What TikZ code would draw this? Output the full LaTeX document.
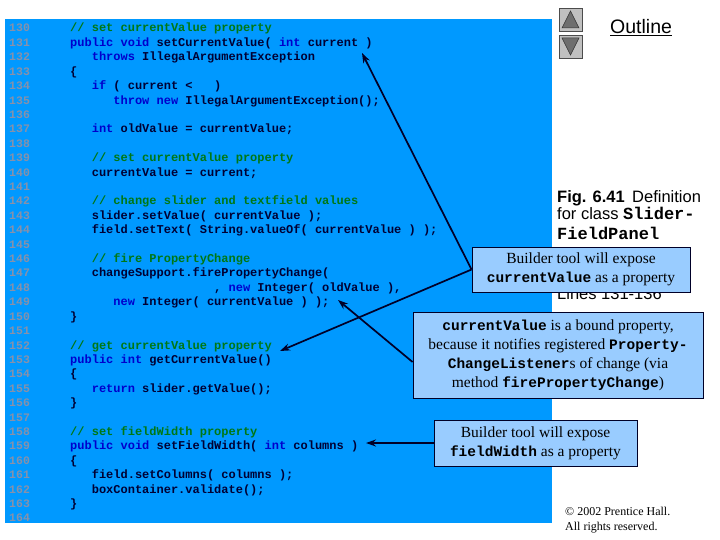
\documentclass[tikz,border=0pt]{standalone}
\usepackage{fontspec}
\setmainfont{Liberation Serif}
\newfontfamily\arialf{Liberation Sans}
\newfontfamily\courf{Liberation Mono}
\usetikzlibrary{arrows.meta}
\definecolor{panelc}{RGB}{0,153,255}
\definecolor{calloutc}{RGB}{153,204,255}
\definecolor{codec}{RGB}{0,0,51}
\definecolor{kwc}{RGB}{0,0,204}
\definecolor{cmc}{RGB}{0,120,20}
\definecolor{numc}{RGB}{135,145,170}
\definecolor{navyc}{RGB}{0,0,40}
\definecolor{btnc}{RGB}{192,192,192}
\definecolor{tric}{RGB}{110,110,110}
\newcommand\K[1]{\textcolor{kwc}{#1}}
\newcommand\C[1]{\textcolor{cmc}{#1}}
\newcommand\cd[1]{{\courf\bfseries\fontsize{14.5}{19}\selectfont #1}}
\tikzset{
  codeline/.style={anchor=base west, inner sep=0pt, font=\courf\bfseries\fontsize{12}{14}\selectfont, text=codec},
  lnum/.style={anchor=base west, inner sep=0pt, font=\courf\bfseries\fontsize{11.5}{14}\selectfont, text=numc},
  callout/.style={draw=navyc, fill=calloutc, line width=0.9pt, inner sep=0pt, align=center,
    font=\fontsize{15.5}{19}\selectfont},
  arr/.style={-{Stealth[length=10pt,width=7pt]}, line width=1.7pt, draw=navyc},
  btn/.style={draw=black!70, fill=btnc, line width=0.6pt},
  tri/.style={draw=black!80, fill=tric, line width=0.5pt},
  side/.style={anchor=base west, inner sep=0pt, font=\arialf\fontsize{16.5}{20}\selectfont},
  copyr/.style={anchor=base west, inner sep=0pt, font=\fontsize{12}{14}\selectfont},
}
\newcommand\cl[3]{\node[codeline] (c#1) at ({70+7.2*#2},{32+14.41*(#1-130)}) {#3};}
\begin{document}
\begin{tikzpicture}[x=1pt,y=-1pt]
\useasboundingbox (0,0) rectangle (720,540);
\fill[white] (0,0) rectangle (720,540);
% panel
\fill[panelc] (5,19) rectangle (552,523);
% line numbers
\foreach \n in {130,...,164}{
  \node[lnum] (n\n) at (9,{32+14.41*(\n-130)}) {\n};
}
% code
\cl{130}{0}{\C{// set currentValue property}}
\cl{131}{0}{\K{public void} setCurrentValue( \K{int} current )}
\cl{132}{3}{\K{throws} IllegalArgumentException}
\cl{133}{0}{\{}
\cl{134}{3}{\K{if} ( current <~~~)}
\cl{135}{6}{\K{throw new} IllegalArgumentException();}
\cl{137}{3}{\K{int} oldValue = currentValue;}
\cl{139}{3}{\C{// set currentValue property}}
\cl{140}{3}{currentValue = current;}
\cl{142}{3}{\C{// change slider and textfield values}}
\cl{143}{3}{slider.setValue( currentValue );}
\cl{144}{3}{field.setText( String.valueOf( currentValue ) );}
\cl{146}{3}{\C{// fire PropertyChange}}
\cl{147}{3}{changeSupport.firePropertyChange(}
\cl{148}{20}{, \K{new} Integer( oldValue ),}
\cl{149}{6}{\K{new} Integer( currentValue ) );}
\cl{150}{0}{\}}
\cl{152}{0}{\C{// get currentValue property}}
\cl{153}{0}{\K{public int} getCurrentValue()}
\cl{154}{0}{\{}
\cl{155}{3}{\K{return} slider.getValue();}
\cl{156}{0}{\}}
\cl{158}{0}{\C{// set fieldWidth property}}
\cl{159}{0}{\K{public void} setFieldWidth( \K{int} columns )}
\cl{160}{0}{\{}
\cl{161}{3}{field.setColumns( columns );}
\cl{162}{3}{boxContainer.validate();}
\cl{163}{0}{\}}
% buttons
\draw[btn] (559,8) rectangle (582,31);
\draw[tri] (562,28) -- (570.5,11) -- (579,28) -- cycle;
\draw[btn] (559,35) rectangle (582,58);
\draw[tri] (562,38) -- (570.5,55) -- (579,38) -- cycle;
\node[inner sep=0pt, anchor=base west, font=\arialf\fontsize{19.5}{22}\selectfont] (outl) at (610,34) {\underline{Outline}};
% side text
\node[side] (fig1) at (557,203) {\textbf{Fig. 6.41}\hspace{0.45em}Definition};
\node[side] (fig2) at (557,220) {for class {\courf\bfseries\fontsize{17}{20}\selectfont Slider-}};
\node[side] (fig3) at (557,240) {{\courf\bfseries\fontsize{17}{20}\selectfont FieldPanel}};
\node[side] (lines) at (557,299) {Lines 131-136};
% targets
\coordinate (t1) at (362,53);
\coordinate (t2) at (280,351);
\coordinate (t3) at (338,300);
\coordinate (t4) at (366,443);
% callouts
\node[callout, minimum width=218pt, minimum height=45pt] (b1) at (581,269.5)
  {Builder tool will expose\\\cd{currentValue} as a property};
\node[callout, minimum width=290pt, minimum height=86pt] (b2) at (558,355)
  {\cd{currentValue} is a bound property,\\because it notifies registered \cd{Property-}\\\cd{ChangeListener}s of change (via\\method \cd{firePropertyChange})};
\node[callout, minimum width=203pt, minimum height=46pt] (b3) at (535.5,443)
  {Builder tool will expose\\\cd{fieldWidth} as a property};
% arrows
\draw[arr] (b1.west) -- (t1);
\draw[arr] (b1.west) -- (t2);
\draw[arr] ([yshift=-7pt]b2.west) -- (t3);
\draw[arr] (b3.west) -- (t4);
% copyright
\node[copyr] (cp1) at (565,515) {\textcopyright\ 2002 Prentice Hall.};
\node[copyr] (cp2) at (565,530) {All rights reserved.};
\end{tikzpicture}
\end{document}
